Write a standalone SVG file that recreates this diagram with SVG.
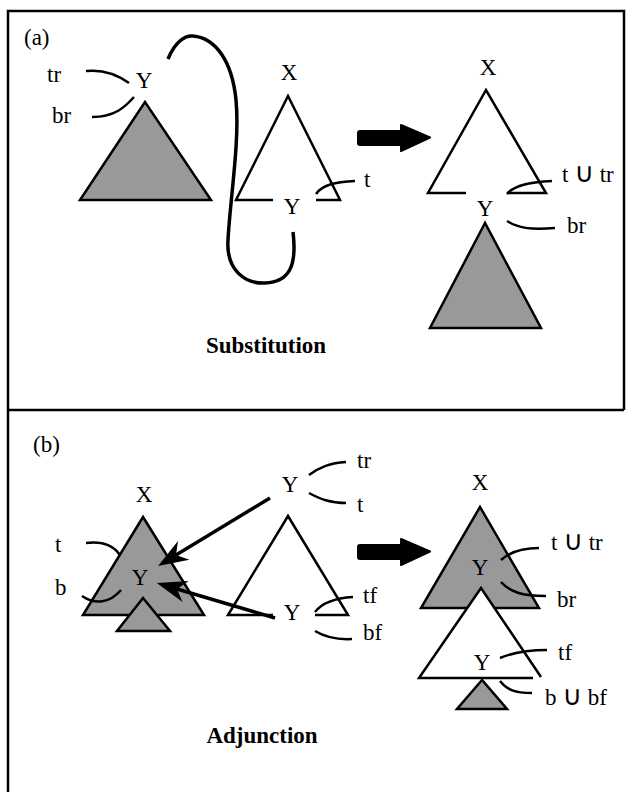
<svg xmlns="http://www.w3.org/2000/svg" width="626" height="792" viewBox="0 0 626 792">
<style>
.lbl{font-family:"Liberation Serif","Times New Roman",serif;font-size:23px;fill:#000}
.ttl{font-family:"Liberation Serif","Times New Roman",serif;font-size:23px;font-weight:bold;fill:#000}
.u{font-family:"DejaVu Sans","Liberation Sans",sans-serif;font-size:27px}
.tri{stroke:#000;stroke-width:2.5;stroke-linejoin:miter}
.gray{fill:#999}
.white{fill:#fff}
.ln{fill:none;stroke:#000;stroke-width:2.5;stroke-linecap:butt}
.thick{fill:none;stroke:#000;stroke-width:3.5}
.frame{fill:none;stroke:#000;stroke-width:2.5}
.bigarrow{fill:#000;stroke:#000;stroke-width:2;stroke-linejoin:round}
</style>
<defs>
<marker id="stealth" markerUnits="userSpaceOnUse" viewBox="-10 -12 32 24" markerWidth="32" markerHeight="24" refX="0" refY="0" orient="auto">
<path d="M21,0 L-9,-11 L0,0 L-9,11 Z" fill="#000"/>
</marker>
</defs>

<g id="frame">
<path class="frame" d="M8,792 V11 H624 V410 M8,410 H624"/>
</g>

<!-- Panel (a) -->
<g id="label-a"><text class="lbl" x="24" y="45">(a)</text></g>

<g id="a-initial-tree">
<polygon class="tri gray" points="145,102 80,200 211,200"/>
<text class="lbl" x="144" y="88" text-anchor="middle">Y</text>
<text class="lbl" x="47" y="82">tr</text>
<text class="lbl" x="52" y="123">br</text>
</g>

<g id="a-target-tree">
<path class="ln" d="M273,200 H236 L288,96 L340,200 H316" fill="none"/>
<text class="lbl" x="289" y="80" text-anchor="middle">X</text>
<text class="lbl" x="292" y="214" text-anchor="middle">Y</text>
<text class="lbl" x="364" y="187">t</text>
</g>

<g id="a-result-tree">
<path class="ln" d="M466,193 H428 L486,90 L546,193 H507"/>
<polygon class="tri gray" points="485,223 430,328 541,328"/>
<text class="lbl" x="488" y="75" text-anchor="middle">X</text>
<text class="lbl" x="485" y="216" text-anchor="middle">Y</text>
<text class="lbl" x="562" y="182">t <tspan class="u">∪</tspan> tr</text>
<text class="lbl" x="567" y="233">br</text>
</g>

<g id="a-title"><text class="ttl" x="266" y="353" text-anchor="middle">Substitution</text></g>

<!-- Panel (b) -->
<g id="label-b"><text class="lbl" x="33" y="452">(b)</text></g>

<g id="b-initial-tree">
<polygon class="tri gray" points="143,517 83,615 204,615"/>
<polygon class="tri gray" points="143,598 117,631 170,631"/>
<text class="lbl" x="144" y="502" text-anchor="middle">X</text>
<text class="lbl" x="140" y="585" text-anchor="middle">Y</text>
<text class="lbl" x="55" y="552">t</text>
<text class="lbl" x="55" y="595">b</text>
</g>

<g id="b-aux-tree">
<path class="ln" d="M273,615 H228 L288,516 L348,615 H315"/>
<text class="lbl" x="290" y="492" text-anchor="middle">Y</text>
<text class="lbl" x="292" y="620" text-anchor="middle">Y</text>
<text class="lbl" x="357" y="468">tr</text>
<text class="lbl" x="357" y="512">t</text>
<text class="lbl" x="363" y="603">tf</text>
<text class="lbl" x="363" y="640">bf</text>
</g>

<g id="b-result-tree">
<polygon class="tri gray" points="480,507 421,608 539,608"/>
<polygon class="white" points="481,588 419,678 541,678"/>
<path class="ln" d="M533,678 H419 L481,588 L541,677"/>
<polygon class="tri gray" points="482,680 457,709 507,709"/>
<text class="lbl" x="480" y="490" text-anchor="middle">X</text>
<text class="lbl" x="480" y="575" text-anchor="middle">Y</text>
<text class="lbl" x="482" y="670" text-anchor="middle">Y</text>
<text class="lbl" x="551" y="550">t <tspan class="u">∪</tspan> tr</text>
<text class="lbl" x="557" y="607">br</text>
<text class="lbl" x="558" y="660">tf</text>
<text class="lbl" x="545" y="705">b <tspan class="u">∪</tspan> bf</text>
</g>

<g id="b-title"><text class="ttl" x="262" y="743" text-anchor="middle">Adjunction</text></g>

<g id="connectors">
<!-- panel a feature lines -->
<path class="ln" d="M86,71 C105,69 118,75 129,83"/>
<path class="ln" d="M134,97 C125,107 115,117 92,117"/>
<path class="ln" d="M316,194 C322,185 335,182 355,181"/>
<path class="ln" d="M507,194 C513,186 530,182 552,181"/>
<path class="ln" d="M507,221 C518,228 530,230 555,228"/>
<!-- substitution loop -->
<path class="thick" d="M168,59 C175,42 185,35 193,36 C215,38 232,60 236,100 C240,140 230,200 228,240 C226,270 245,284 265,283 C290,282 297,265 293,232"/>
<!-- big arrows -->
<path class="bigarrow" d="M360,131 H401 V125 L430,137.5 L401,151 V145 H360 Q358,145 358,143 V133 Q358,131 360,131 Z"/>
<path class="bigarrow" d="M360,545 H401 V539 L430,551.5 L401,565 V559 H360 Q358,559 358,557 V547 Q358,545 360,545 Z"/>
<!-- panel b feature lines -->
<path class="ln" d="M86,543 C103,541 113,545 120,555"/>
<path class="ln" d="M82,596 C95,605 110,603 121,590"/>
<path class="ln" d="M309,475 C320,467 330,463 346,462"/>
<path class="ln" d="M309,493 C320,499 330,503 346,503"/>
<path class="ln" d="M315,612 C322,603 335,598 353,597"/>
<path class="ln" d="M315,631 C325,637 335,640 352,639"/>
<path class="ln" d="M501,560 C510,552 522,548 539,548"/>
<path class="ln" d="M501,582 C510,592 522,596 546,596"/>
<path class="ln" d="M500,658 C512,653 525,650 547,650"/>
<path class="ln" d="M500,681 C507,690 515,693 532,693"/>
<!-- adjunction arrows -->
<path class="thick" d="M270,498 L176,555" stroke-width="4" marker-end="url(#stealth)"/>
<path class="thick" d="M275,618 L177,589" stroke-width="4" marker-end="url(#stealth)"/>
</g>
</svg>
